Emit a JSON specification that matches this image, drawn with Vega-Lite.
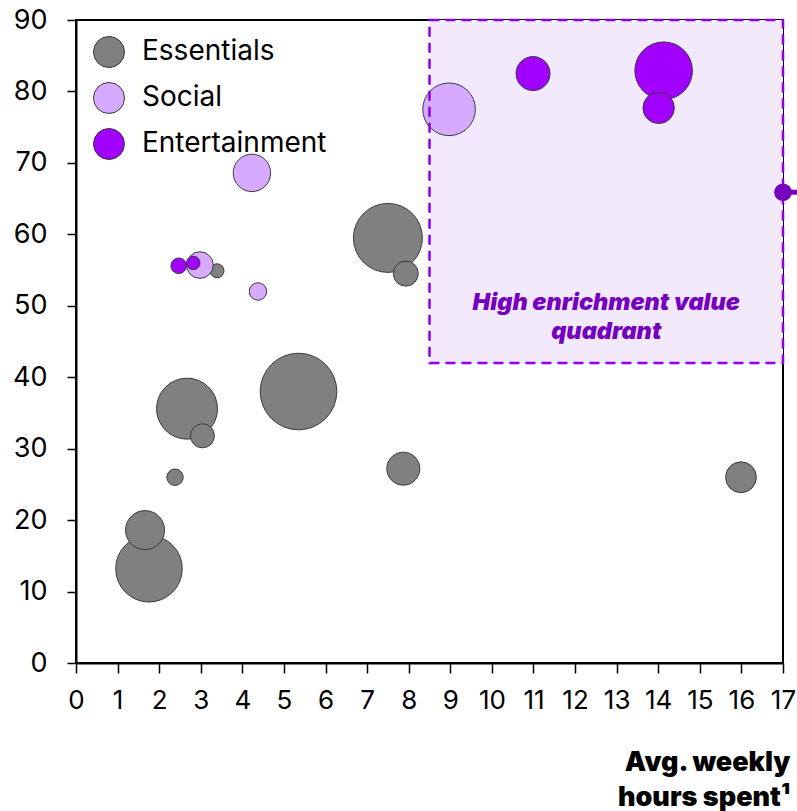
{
  "$schema": "https://vega.github.io/schema/vega-lite/v6.json",
  "width": 707,
  "height": 643,
  "autosize": {"type": "none"},
  "padding": {"left": 76, "top": 20, "right": 14, "bottom": 148},
  "background": "white",
  "config": {
    "font": "Inter",
    "view": {"stroke": "#000000", "strokeWidth": 2},
    "axis": {
      "grid": false,
      "domainColor": "#000000",
      "domainWidth": 2,
      "tickColor": "#000000",
      "tickWidth": 1.5,
      "tickSize": 10,
      "labelColor": "#000000",
      "labelFontSize": 26,
      "labelFont": "Inter",
      "labelFontWeight": 400
    }
  },
  "datasets": {
    "bubbles": [
      {"category": "Essentials", "hours": 1.755, "score": 13.2, "weight": 110.9},
      {"category": "Essentials", "hours": 1.66, "score": 18.6, "weight": 38.0},
      {"category": "Essentials", "hours": 2.38, "score": 26.0, "weight": 6.7},
      {"category": "Essentials", "hours": 2.67, "score": 35.6, "weight": 93.0},
      {"category": "Essentials", "hours": 3.04, "score": 31.8, "weight": 14.4},
      {"category": "Essentials", "hours": 3.39, "score": 54.9, "weight": 4.9},
      {"category": "Essentials", "hours": 5.35, "score": 38.0, "weight": 146.7},
      {"category": "Essentials", "hours": 7.5, "score": 59.5, "weight": 119.0},
      {"category": "Essentials", "hours": 7.93, "score": 54.5, "weight": 15.6},
      {"category": "Essentials", "hours": 7.87, "score": 27.2, "weight": 27.2},
      {"category": "Essentials", "hours": 15.99, "score": 26.0, "weight": 23.7},
      {"category": "Social", "hours": 4.23, "score": 68.6, "weight": 35.0},
      {"category": "Social", "hours": 2.98, "score": 55.7, "weight": 17.7},
      {"category": "Social", "hours": 4.375, "score": 52.0, "weight": 7.6},
      {"category": "Social", "hours": 8.97, "score": 77.5, "weight": 69.2},
      {"category": "Entertainment", "hours": 2.47, "score": 55.6, "weight": 6.1},
      {"category": "Entertainment", "hours": 2.82, "score": 56.0, "weight": 4.5},
      {"category": "Entertainment", "hours": 10.99, "score": 82.5, "weight": 28.9},
      {"category": "Entertainment", "hours": 14.13, "score": 82.9, "weight": 82.9},
      {"category": "Entertainment", "hours": 14.01, "score": 77.7, "weight": 24.6}
    ],
    "quadrant": [
      {"hours": 8.5, "hours2": 17, "score": 42, "score2": 90, "label": "High enrichment value\nquadrant", "labelHours": 12.75, "labelScore": 50.4}
    ],
    "edge": [
      {"hours": 17, "hours2": 17.5, "score": 65.9}
    ]
  },
  "encoding": {
    "x": {
      "field": "hours",
      "type": "quantitative",
      "scale": {"domain": [0, 17], "nice": false, "zero": false},
      "axis": {
        "values": [0,1,2,3,4,5,6,7,8,9,10,11,12,13,14,15,16,17],
        "labelPadding": 14,
        "labelFlush": false,
        "labelOverlap": false,
        "title": ["Avg. weekly", "hours spent\u00b9"],
        "titleFont": "Inter",
        "titleFontSize": 27,
        "titleFontWeight": 900,
        "titleColor": "#000000",
        "titleAnchor": "end",
        "titleAlign": "right",
        "titleX": 714,
        "titlePadding": 36,
        "titleLineHeight": 35
      }
    },
    "y": {
      "field": "score",
      "type": "quantitative",
      "scale": {"domain": [0, 90], "nice": false, "zero": true},
      "axis": {
        "values": [0,10,20,30,40,50,60,70,80,90],
        "labelPadding": 20,
        "tickSize": 9,
        "labelFontSize": 27,
        "title": null
      }
    }
  },
  "layer": [
    {
      "data": {"name": "quadrant"},
      "mark": {"type": "rect", "fill": "#f3e9fd", "strokeWidth": 0},
      "encoding": {
        "x2": {"field": "hours2"},
        "y2": {"field": "score2"}
      }
    },
    {
      "data": {"name": "bubbles"},
      "mark": {"type": "point", "shape": "circle", "filled": true, "opacity": 1, "stroke": "#3a3a3a", "strokeWidth": 1},
      "encoding": {
        "size": {
          "field": "weight",
          "type": "quantitative",
          "scale": {"type": "linear", "domain": [0, 100], "range": [0, 4000], "zero": true},
          "legend": null
        },
        "color": {
          "field": "category",
          "type": "nominal",
          "scale": {"domain": ["Essentials", "Social", "Entertainment"], "range": ["#808080", "#d6aaff", "#a100ff"]},
          "legend": {
            "title": null,
            "orient": "none",
            "legendX": 17,
            "legendY": 16,
            "padding": 0,
            "symbolType": "circle",
            "symbolSize": 961,
            "symbolStrokeColor": "#3a3a3a",
            "symbolStrokeWidth": 1,
            "symbolOpacity": 1,
            "labelFont": "Inter",
            "labelFontSize": 28,
            "labelColor": "#000000",
            "labelOffset": 17,
            "labelLimit": 0,
            "rowPadding": 10
          }
        }
      }
    },
    {
      "data": {"name": "quadrant"},
      "mark": {"type": "rect", "fill": null, "fillOpacity": 0, "stroke": "#8f00e6", "strokeWidth": 2.5, "strokeDash": [10, 6]},
      "encoding": {
        "x2": {"field": "hours2"},
        "y2": {"field": "score2"}
      }
    },
    {
      "data": {"name": "quadrant"},
      "mark": {"type": "text", "font": "Inter", "fontSize": 23.5, "fontWeight": 900, "fontStyle": "italic", "color": "#7500c0", "align": "center", "baseline": "middle", "lineBreak": "\n", "lineHeight": 29},
      "encoding": {
        "x": {"field": "labelHours", "type": "quantitative"},
        "y": {"field": "labelScore", "type": "quantitative"},
        "text": {"field": "label"}
      }
    },
    {
      "data": {"name": "edge"},
      "mark": {"type": "rule", "color": "#7500c0", "strokeWidth": 5},
      "encoding": {
        "x2": {"field": "hours2"}
      }
    },
    {
      "data": {"name": "edge"},
      "mark": {"type": "point", "shape": "circle", "filled": true, "opacity": 1, "color": "#7500c0", "size": 310},
      "encoding": {}
    }
  ]
}
